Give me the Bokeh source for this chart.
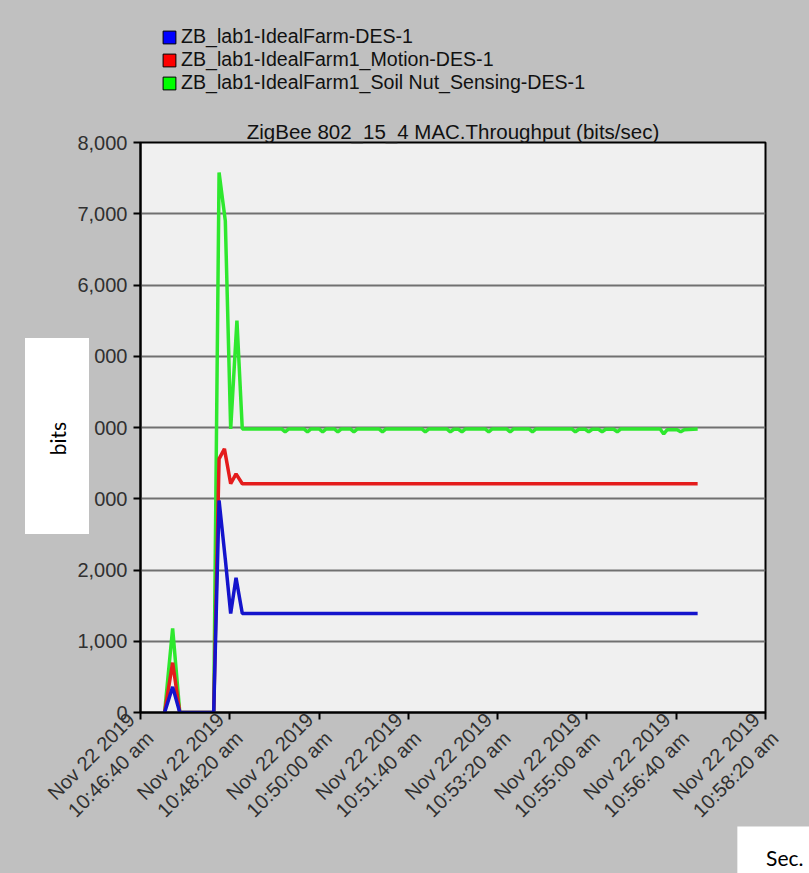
import math
import pandas as pd
from bokeh.plotting import figure
from bokeh.layouts import column
from bokeh.models import (FixedTicker, NumeralTickFormatter, Legend, LegendItem,
                          Title, Range1d)
from bokeh.embed import file_html
from bokeh.resources import INLINE

# ---------------- data ----------------
START = "2019-11-22 10:46:40"
series_names = [
    "ZB_lab1-IdealFarm-DES-1",
    "ZB_lab1-IdealFarm1_Motion-DES-1",
    "ZB_lab1-IdealFarm1_Soil Nut_Sensing-DES-1",
]
# seconds after START, values in bits/sec
t_blue = [27, 36, 44, 82, 88, 95, 101, 107, 114, 624]
v_blue = [0, 360, 0, 0, 2975, 2150, 1390, 1890, 1390, 1390]

t_red = [27, 36, 44, 82, 88, 94, 101, 107, 114, 624]
v_red = [0, 700, 0, 0, 3560, 3700, 3210, 3350, 3210, 3210]

t_green = [27, 36, 44, 82, 88, 95, 101, 108, 114,
           158, 162, 166,
           183, 187, 191,
           200, 204, 208,
           217, 221, 225,
           235, 239, 243,
           267, 271, 275,
           315, 319, 323,
           343, 347, 351,
           356, 360, 364,
           386, 390, 394,
           410, 414, 418,
           435, 439, 443,
           483, 487, 491,
           498, 502, 506,
           513, 517, 521,
           530, 534, 538,
           582, 586, 590,
           601, 605, 609,
           624]
v_green = [0, 1180, 0, 0, 7580, 6900, 3980, 5500, 3980,
           3980, 3940, 3980,
           3980, 3940, 3980,
           3980, 3940, 3980,
           3980, 3940, 3980,
           3980, 3940, 3980,
           3980, 3940, 3980,
           3980, 3940, 3980,
           3980, 3940, 3975,
           3975, 3940, 3980,
           3980, 3940, 3980,
           3980, 3940, 3980,
           3980, 3940, 3980,
           3980, 3940, 3975,
           3975, 3940, 3975,
           3975, 3940, 3975,
           3975, 3940, 3980,
           3980, 3910, 3970,
           3970, 3940, 3970,
           3980]

x_tick_seconds = [0, 100, 200, 300, 400, 500, 600, 700]
x_tick_labels = [
    "Nov 22 2019\n10:46:40 am",
    "Nov 22 2019\n10:48:20 am",
    "Nov 22 2019\n10:50:00 am",
    "Nov 22 2019\n10:51:40 am",
    "Nov 22 2019\n10:53:20 am",
    "Nov 22 2019\n10:55:00 am",
    "Nov 22 2019\n10:56:40 am",
    "Nov 22 2019\n10:58:20 am",
]
y_ticks = [0, 1000, 2000, 3000, 4000, 5000, 6000, 7000, 8000]
# the leading digits of these labels are hidden behind the pasted "bits" box in the reference
y_label_overrides = {3000: "000", 4000: "000", 5000: "000"}

title_text = "ZigBee 802_15_4 MAC.Throughput (bits/sec)"
y_label = "bits"
x_label = "Sec."

colors = ["#1414cc", "#e41c1c", "#2ee82e"]
legend_colors = ["#0000ff", "#ff0000", "#00ff00"]

# ---------------- helpers ----------------
start = pd.Timestamp(START)
start_ms = start.value // 10**6


def to_dt(secs):
    return [start + pd.Timedelta(seconds=s) for s in secs]


tick_ms = [float(start_ms + s * 1000) for s in x_tick_seconds]

FONT = "Liberation Sans"
GRAY = "#c0c0c0"
NB = "\u00a0"
W = 809
TOP_H = 112
MAIN_H = 873 - TOP_H
FRAME_L, FRAME_R = 140, 765

# ---------------- top strip: legend ----------------
# (its frame is aligned with the main chart's frame by the column layout)
top = figure(width=W, height=TOP_H, title=None, output_backend="svg", toolbar_location=None,
             x_range=Range1d(FRAME_L, FRAME_R), y_range=Range1d(0, TOP_H),
             min_border_left=0, min_border_right=0, min_border_top=0, min_border_bottom=0)
top.axis.visible = False
top.grid.visible = False
top.outline_line_color = None
top.background_fill_color = GRAY
top.background_fill_alpha = 1
top.border_fill_color = GRAY
top.border_fill_alpha = 1

items = []
for name, c in zip(series_names, legend_colors):
    # zero-size swatch renderer, only used for the legend's square key
    r = top.quad(left=[0], right=[0], top=[0], bottom=[0], fill_color=c,
                 line_color="black", line_width=1)
    items.append(LegendItem(label=name, renderers=[r]))
legend = Legend(items=items, location=(21, 18), orientation="vertical",
                glyph_width=16, glyph_height=16, label_standoff=4, spacing=0,
                padding=0, margin=0, label_height=20,
                label_text_font=FONT, label_text_font_size="19.6px", label_text_color="#111111",
                background_fill_alpha=0, border_line_alpha=0)
top.add_layout(legend)

# ---------------- main chart ----------------
p = figure(width=W, height=MAIN_H, x_axis_type="datetime",
           title=NB * 11 + y_label + NB * 12, title_location="left",
           output_backend="svg", toolbar_location=None,
           x_range=Range1d(to_dt([0])[0], to_dt([700])[0]),
           y_range=Range1d(0, 8000))
p.min_border_left = FRAME_L
p.min_border_right = W - FRAME_R
p.min_border_top = 30
p.min_border_bottom = 161

p.background_fill_color = "#f0f0f0"
p.border_fill_color = GRAY
p.outline_line_color = "black"
p.outline_line_width = 2

# chart title just above the plot area
p.add_layout(Title(text=title_text, align="center", standoff=0, text_font=FONT,
                   text_font_size="20.5px", text_font_style="normal", text_color="#111111"),
             "above")

# "bits" caption in a white box (pasted over the chart in the reference)
p.title.align = "left"
p.title.offset = 198
p.title.text_font = "Lato"
p.title.text_font_size = "21px"
p.title.text_font_style = "normal"
p.title.text_color = "black"
p.title.background_fill_color = "white"
p.title.border_line_color = "white"
p.title.border_line_width = 39
p.title.border_line_join = "miter"

# lines (green behind, blue on top)
p.line(to_dt(t_green), v_green, line_width=3.5, color=colors[2])
p.line(to_dt(t_red), v_red, line_width=3.5, color=colors[1])
p.line(to_dt(t_blue), v_blue, line_width=3.5, color=colors[0])

# axes
yt = FixedTicker(ticks=y_ticks)
p.yaxis.ticker = yt
p.ygrid.ticker = yt
p.yaxis.formatter = NumeralTickFormatter(format="0,0")
p.yaxis.major_label_overrides = y_label_overrides
xt = FixedTicker(ticks=tick_ms)
p.xaxis.ticker = xt
p.xaxis.major_label_overrides = {ms: lab for ms, lab in zip(tick_ms, x_tick_labels)}
p.xaxis.major_label_orientation = math.pi / 4
p.xgrid.visible = False
p.ygrid.grid_line_color = "#707070"
p.ygrid.grid_line_width = 2

for ax in (p.xaxis, p.yaxis):
    ax.axis_line_color = "black"
    ax.axis_line_width = 2
    ax.major_tick_line_color = "black"
    ax.major_tick_line_width = 2
    ax.major_tick_out = 7
    ax.major_tick_in = 0
    ax.minor_tick_line_color = None
    ax.major_label_text_font = FONT
    ax.major_label_text_font_size = "20px"
    ax.major_label_text_color = "#303030"
    ax.major_label_standoff = 6

# "Sec." caption in a white box, bottom right
sec = Title(text=NB * 2 + x_label, align="right", offset=-38, standoff=0,
            text_font="Lato", text_font_size="21px", text_font_style="normal",
            text_color="black", background_fill_color="white",
            border_line_color="white", border_line_width=36, border_line_join="miter")
p.add_layout(sec, "below")

layout = column(top, p, spacing=0, styles={"background-color": GRAY})
open("out.html", "w").write(file_html(layout, INLINE))
